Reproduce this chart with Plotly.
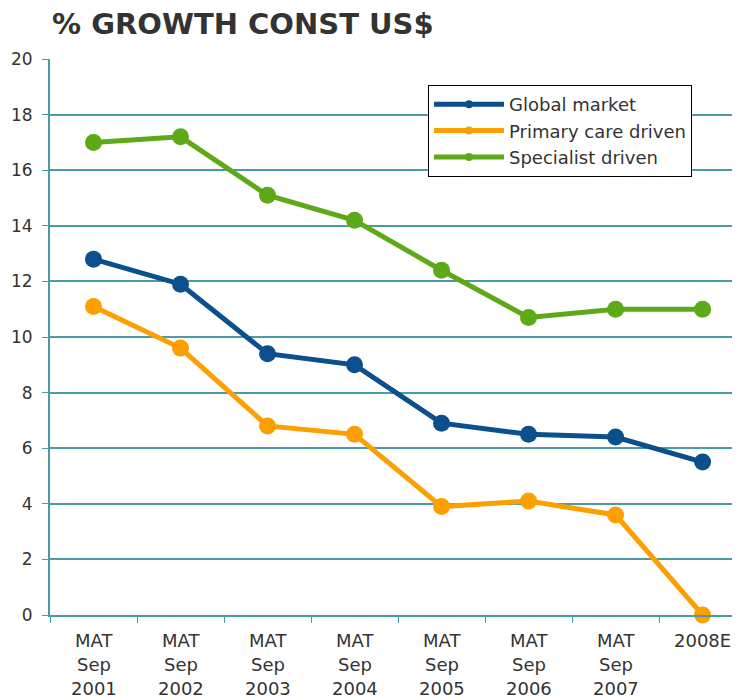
import plotly.graph_objects as go

categories = ["MAT Sep 2001", "MAT Sep 2002", "MAT Sep 2003", "MAT Sep 2004",
              "MAT Sep 2005", "MAT Sep 2006", "MAT Sep 2007", "2008E"]
label_lines = [["MAT", "Sep", "2001"], ["MAT", "Sep", "2002"], ["MAT", "Sep", "2003"],
               ["MAT", "Sep", "2004"], ["MAT", "Sep", "2005"], ["MAT", "Sep", "2006"],
               ["MAT", "Sep", "2007"], ["2008E"]]
global_market = [12.8, 11.9, 9.4, 9.0, 6.9, 6.5, 6.4, 5.5]
primary_care = [11.1, 9.6, 6.8, 6.5, 3.9, 4.1, 3.6, 0.0]
specialist = [17.0, 17.2, 15.1, 14.2, 12.4, 10.7, 11.0, 11.0]
y_ticks = [0, 2, 4, 6, 8, 10, 12, 14, 16, 18, 20]

grid = "#4b9ba6"
txt = "#333333"
xs = list(range(len(categories)))

fig = go.Figure()
series = [("Global market", global_market, "#0b4f8c"),
          ("Primary care driven", primary_care, "#fba000"),
          ("Specialist driven", specialist, "#5ea918")]
for name, vals, col in series:
    fig.add_trace(go.Scatter(x=xs, y=vals, name=name, mode="lines+markers",
                             line=dict(color=col, width=5),
                             marker=dict(color=col, size=17),
                             cliponaxis=False, showlegend=False, legendgroup=name))
for name, vals, col in series:
    fig.add_trace(go.Scatter(x=[None], y=[None], name=name, mode="lines+markers",
                             line=dict(color=col, width=5),
                             marker=dict(color=col, size=8),
                             showlegend=True, legendgroup=name))

annotations = []
for i, lines in enumerate(label_lines):
    for j, t in enumerate(lines):
        annotations.append(dict(x=i, xref="x", y=0, yref="paper", yshift=-25 - 24 * j,
                                text=t, showarrow=False, yanchor="middle",
                                font=dict(family="DejaVu Sans", size=18, color=txt)))

fig.update_layout(
    width=740, height=699,
    margin=dict(l=42, r=8, t=51, b=92),
    paper_bgcolor="white", plot_bgcolor="white",
    title=dict(text="% GROWTH CONST US$", x=44 / 740, xanchor="left", y=1 - 16 / 699,
               yanchor="middle",
               font=dict(family="DejaVu Sans", size=29, color=txt, weight="bold")),
    xaxis=dict(range=[-0.5, 7.43], tickvals=[i - 0.5 for i in range(9)], ticktext=[""] * 9,
               ticks="outside", ticklen=6, tickcolor=grid, showgrid=False,
               showline=True, linecolor=grid, linewidth=2, zeroline=False),
    yaxis=dict(range=[0, 20], tickvals=y_ticks, ticks="outside", ticklen=6, tickcolor=grid,
               showgrid=True, gridcolor=grid, gridwidth=1.5, showline=True, linecolor=grid,
               linewidth=2, zeroline=False, ticklabelstandoff=6, automargin=False,
               tickfont=dict(family="DejaVu Sans", size=17, color=txt)),
    legend=dict(x=(428 - 50) / 690, y=(615 - 85) / 556, xanchor="left", yanchor="top",
                bordercolor="black", borderwidth=1, bgcolor="white",
                font=dict(family="DejaVu Sans", size=18, color=txt),
                itemwidth=70, tracegroupgap=0),
    annotations=annotations,
)

fig.write_html("out.html")
